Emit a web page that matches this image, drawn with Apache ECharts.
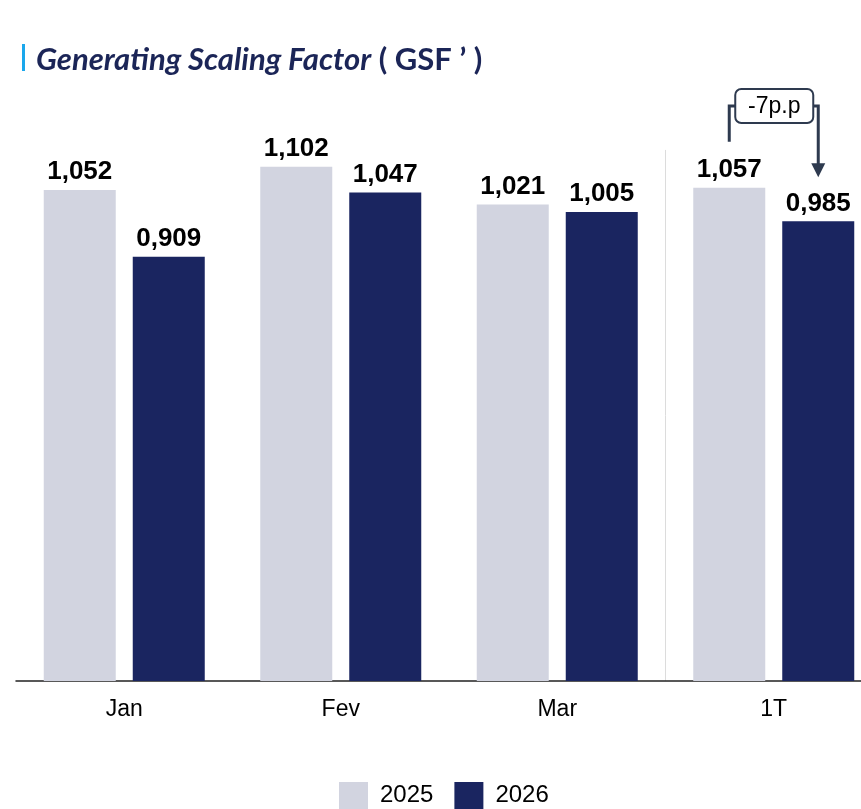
<!DOCTYPE html>
<html>
<head>
<meta charset="utf-8">
<script src="https://cdn.jsdelivr.net/npm/echarts@6/dist/echarts.min.js"></script>
<style>
  html, body { margin: 0; padding: 0; background: #fff; }
  #chart { width: 861px; height: 809px; }
</style>
</head>
<body>
<div id="chart"></div>
<script>
const categories = ["Jan", "Fev", "Mar", "1T"];
const values2025 = [1.052, 1.102, 1.021, 1.057];
const values2026 = [0.909, 1.047, 1.005, 0.985];
const seriesNames = ["2025", "2026"];
const deltaLabel = "-7p.p";

const lightColor = "#d2d4e0";
const navyColor = "#1a2560";
const barWidth = 72;
const barGapPx = 17;

const chart = echarts.init(document.getElementById("chart"));

const fmt = function (p) {
  return p.value.toFixed(3).replace(".", ",");
};

const labelStyle = {
  show: true,
  position: "top",
  distance: 5,
  formatter: fmt,
  fontFamily: "Liberation Sans, Arial, sans-serif",
  fontWeight: "bold",
  fontSize: 26,
  color: "#000"
};

chart.setOption({
  animation: false,
  title: {
    left: 36,
    top: 44,
    padding: 0,
    text: "{a|Generating Scaling Factor}{b| ( GSF ’ )}",
    textStyle: {
      rich: {
        a: {
          fontFamily: "Lato, sans-serif",
          fontStyle: "italic",
          fontWeight: "bold",
          fontSize: 31,
          color: "#1b2557"
        },
        b: {
          fontFamily: "Lato, sans-serif",
          fontWeight: "bold",
          fontSize: 31,
          color: "#1b2557"
        }
      }
    }
  },
  legend: {
    left: 339,
    top: 782,
    padding: 0,
    itemWidth: 29,
    itemHeight: 27,
    itemGap: 21,
    icon: "rect",
    data: seriesNames,
    textStyle: {
      fontFamily: "Liberation Sans, Arial, sans-serif",
      fontSize: 24,
      color: "#000",
      padding: [0, 0, 0, 7]
    }
  },
  grid: {
    left: 16,
    width: 866,
    top: 121,
    bottom: 128,
    outerBoundsMode: "none",
    containLabel: false
  },
  xAxis: {
    type: "category",
    data: categories,
    axisTick: { show: false },
    axisLine: { lineStyle: { color: "#222", width: 1.5 } },
    axisLabel: {
      margin: 17,
      fontFamily: "Liberation Sans, Arial, sans-serif",
      fontSize: 23,
      color: "#000"
    }
  },
  yAxis: {
    type: "value",
    min: 0,
    max: 1.2,
    show: false,
    splitLine: { show: false }
  },
  series: [
    {
      name: seriesNames[0],
      type: "bar",
      data: values2025,
      barWidth: barWidth,
      barGap: (barGapPx / barWidth * 100) + "%",
      itemStyle: { color: lightColor },
      label: labelStyle
    },
    {
      name: seriesNames[1],
      type: "bar",
      data: values2026,
      barWidth: barWidth,
      itemStyle: { color: navyColor },
      label: labelStyle
    }
  ]
});

// separator and "-7p.p" annotation placed from the axis scales
function drawOverlay() {
  const last = categories.length - 1;
  const cLast = chart.convertToPixel({ xAxisIndex: 0 }, categories[last]);
  const cPrev = chart.convertToPixel({ xAxisIndex: 0 }, categories[last - 1]);
  const sepX = (cLast + cPrev) / 2;
  const yBase = chart.convertToPixel({ yAxisIndex: 0 }, 0);
  const sepTop = chart.convertToPixel({ yAxisIndex: 0 }, 1.138);
  const off = (barWidth + barGapPx) / 2;
  const xA = cLast - off;
  const xB = cLast + off;
  const topA = chart.convertToPixel({ yAxisIndex: 0 }, values2025[last]);
  const topB = chart.convertToPixel({ yAxisIndex: 0 }, values2026[last]);
  const lineStartA = topA - 46;
  const arrowTip = topB - 44;
  const boxY = 89, boxH = 34, boxX = xA + 6, boxW = 78;
  const midY = boxY + boxH / 2;
  const lineCol = "#2e3a4f";

  chart.setOption({
    graphic: [
      {
        type: "rect",
        left: 22, top: 44,
        shape: { width: 3, height: 27 },
        style: { fill: "#1aa7ec" }
      },
      {
        type: "line",
        shape: { x1: sepX, y1: sepTop, x2: sepX, y2: yBase },
        style: { stroke: "#dcdcdc", lineWidth: 1 }
      },
      {
        type: "polyline",
        shape: { points: [[xA, lineStartA], [xA, midY], [boxX, midY]] },
        style: { stroke: lineCol, lineWidth: 3, fill: null }
      },
      {
        type: "polyline",
        shape: { points: [[boxX + boxW, midY], [xB, midY], [xB, arrowTip - 12]] },
        style: { stroke: lineCol, lineWidth: 3, fill: null }
      },
      {
        type: "polygon",
        shape: { points: [[xB - 7, arrowTip - 14], [xB + 7, arrowTip - 14], [xB, arrowTip]] },
        style: { fill: lineCol }
      },
      {
        type: "rect",
        shape: { x: boxX, y: boxY, width: boxW, height: boxH, r: 6 },
        style: { fill: "#fff", stroke: lineCol, lineWidth: 2 }
      },
      {
        type: "text",
        x: boxX + boxW / 2, y: midY + 1,
        style: {
          text: deltaLabel,
          align: "center",
          verticalAlign: "middle",
          fontFamily: "Liberation Sans, Arial, sans-serif",
          fontSize: 23,
          fill: "#000"
        }
      }
    ]
  });
}
drawOverlay();
</script>
</body>
</html>
